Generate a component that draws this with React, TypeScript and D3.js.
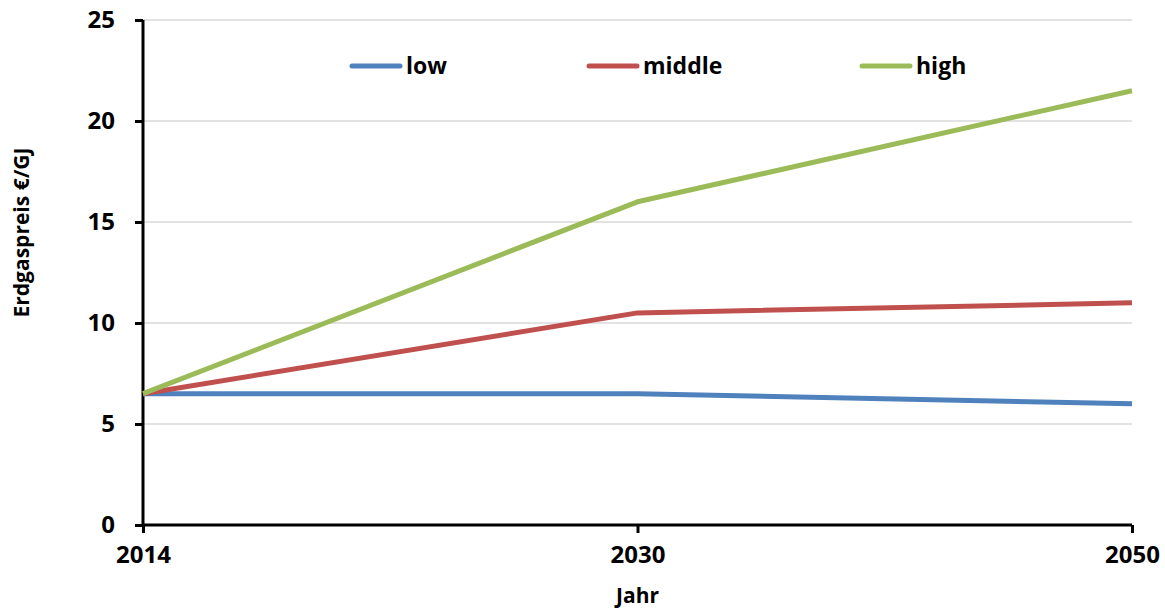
import * as d3 from "d3";
import React, { useEffect, useRef } from "react";

const years = ["2014", "2030", "2050"];
const lowValues = [6.5, 6.5, 6.0];
const middleValues = [6.5, 10.5, 11.0];
const highValues = [6.5, 16.0, 21.5];
const yTicks = [0, 5, 10, 15, 20, 25];

const seriesNames = ["low", "middle", "high"];
const seriesColors = ["#4f81bd", "#c0504d", "#9bbb59"];

const FONT = "'Open Sans', sans-serif";

const App = () => {
    const svgRef = useRef<SVGSVGElement>(null);

    useEffect(() => {
        const width = 1165;
        const height = 609;
        const margin = { top: 20, right: 33, bottom: 84, left: 143 };

        const svg = d3.select(svgRef.current);
        svg.selectAll("*").remove();
        svg.attr("width", width).attr("height", height);

        const chartWidth = width - margin.left - margin.right;
        const chartHeight = height - margin.top - margin.bottom;

        const chart = svg.append("g")
            .attr("transform", `translate(${margin.left},${margin.top})`);

        const xScale = d3.scalePoint<string>()
            .domain(years)
            .range([0, chartWidth]);

        const yScale = d3.scaleLinear()
            .domain([0, 25])
            .range([chartHeight, 0]);

        // gridlines
        chart.selectAll(".grid")
            .data(yTicks.filter(t => t > 0))
            .enter()
            .append("line")
            .attr("x1", 0)
            .attr("x2", chartWidth)
            .attr("y1", d => yScale(d))
            .attr("y2", d => yScale(d))
            .attr("stroke", "#d9d9d9")
            .attr("stroke-width", 1.5);

        // y axis
        const yAxis = chart.append("g")
            .call(d3.axisLeft(yScale).tickValues(yTicks).tickSize(8).tickPadding(20));
        yAxis.select(".domain").attr("stroke", "#000").attr("stroke-width", 3)
            .attr("d", `M0,${chartHeight}V0`);
        yAxis.selectAll(".tick line").attr("stroke", "#000").attr("stroke-width", 3);
        yAxis.selectAll("text")
            .style("font-family", FONT)
            .style("font-weight", "bold")
            .style("font-size", "24px")
            .attr("fill", "#000");

        // x axis
        const xAxis = chart.append("g")
            .attr("transform", `translate(0,${chartHeight})`)
            .call(d3.axisBottom(xScale).tickSize(8).tickPadding(13));
        xAxis.select(".domain").attr("stroke", "#000").attr("stroke-width", 3)
            .attr("d", `M0,0H${chartWidth}`);
        xAxis.selectAll(".tick line").attr("stroke", "#000").attr("stroke-width", 3);
        xAxis.selectAll("text")
            .style("font-family", FONT)
            .style("font-weight", "bold")
            .style("font-size", "24px")
            .attr("fill", "#000");

        // series lines
        const allSeries = [lowValues, middleValues, highValues];
        const line = d3.line<number>()
            .x((_, i) => xScale(years[i]) as number)
            .y(d => yScale(d));

        allSeries.forEach((values, s) => {
            chart.append("path")
                .datum(values)
                .attr("fill", "none")
                .attr("stroke", seriesColors[s])
                .attr("stroke-width", 5)
                .attr("stroke-linejoin", "round")
                .attr("d", line);
        });

        // legend
        const legendX = [350, 587, 860];
        seriesNames.forEach((name, i) => {
            const g = svg.append("g").attr("transform", `translate(${legendX[i]},66)`);
            g.append("line")
                .attr("x1", 2).attr("x2", 50)
                .attr("y1", 0).attr("y2", 0)
                .attr("stroke", seriesColors[i])
                .attr("stroke-width", 5)
                .attr("stroke-linecap", "round");
            g.append("text")
                .attr("x", 56)
                .attr("y", 8)
                .style("font-family", FONT)
                .style("font-weight", "bold")
                .style("font-size", "23px")
                .text(name);
        });

        // axis titles
        svg.append("text")
            .attr("x", margin.left + chartWidth / 2)
            .attr("y", 603)
            .attr("text-anchor", "middle")
            .style("font-family", FONT)
            .style("font-weight", "bold")
            .style("font-size", "21px")
            .text("Jahr");

        svg.append("text")
            .attr("transform", `translate(29,${margin.top + chartHeight / 2 - 40}) rotate(-90)`)
            .attr("text-anchor", "middle")
            .style("font-family", FONT)
            .style("font-weight", "bold")
            .style("font-size", "21px")
            .text("Erdgaspreis €/GJ");
    }, []);

    return <svg ref={svgRef} style={{ display: "block", position: "absolute", left: 0, top: 0 }} />;
};

export default App;
